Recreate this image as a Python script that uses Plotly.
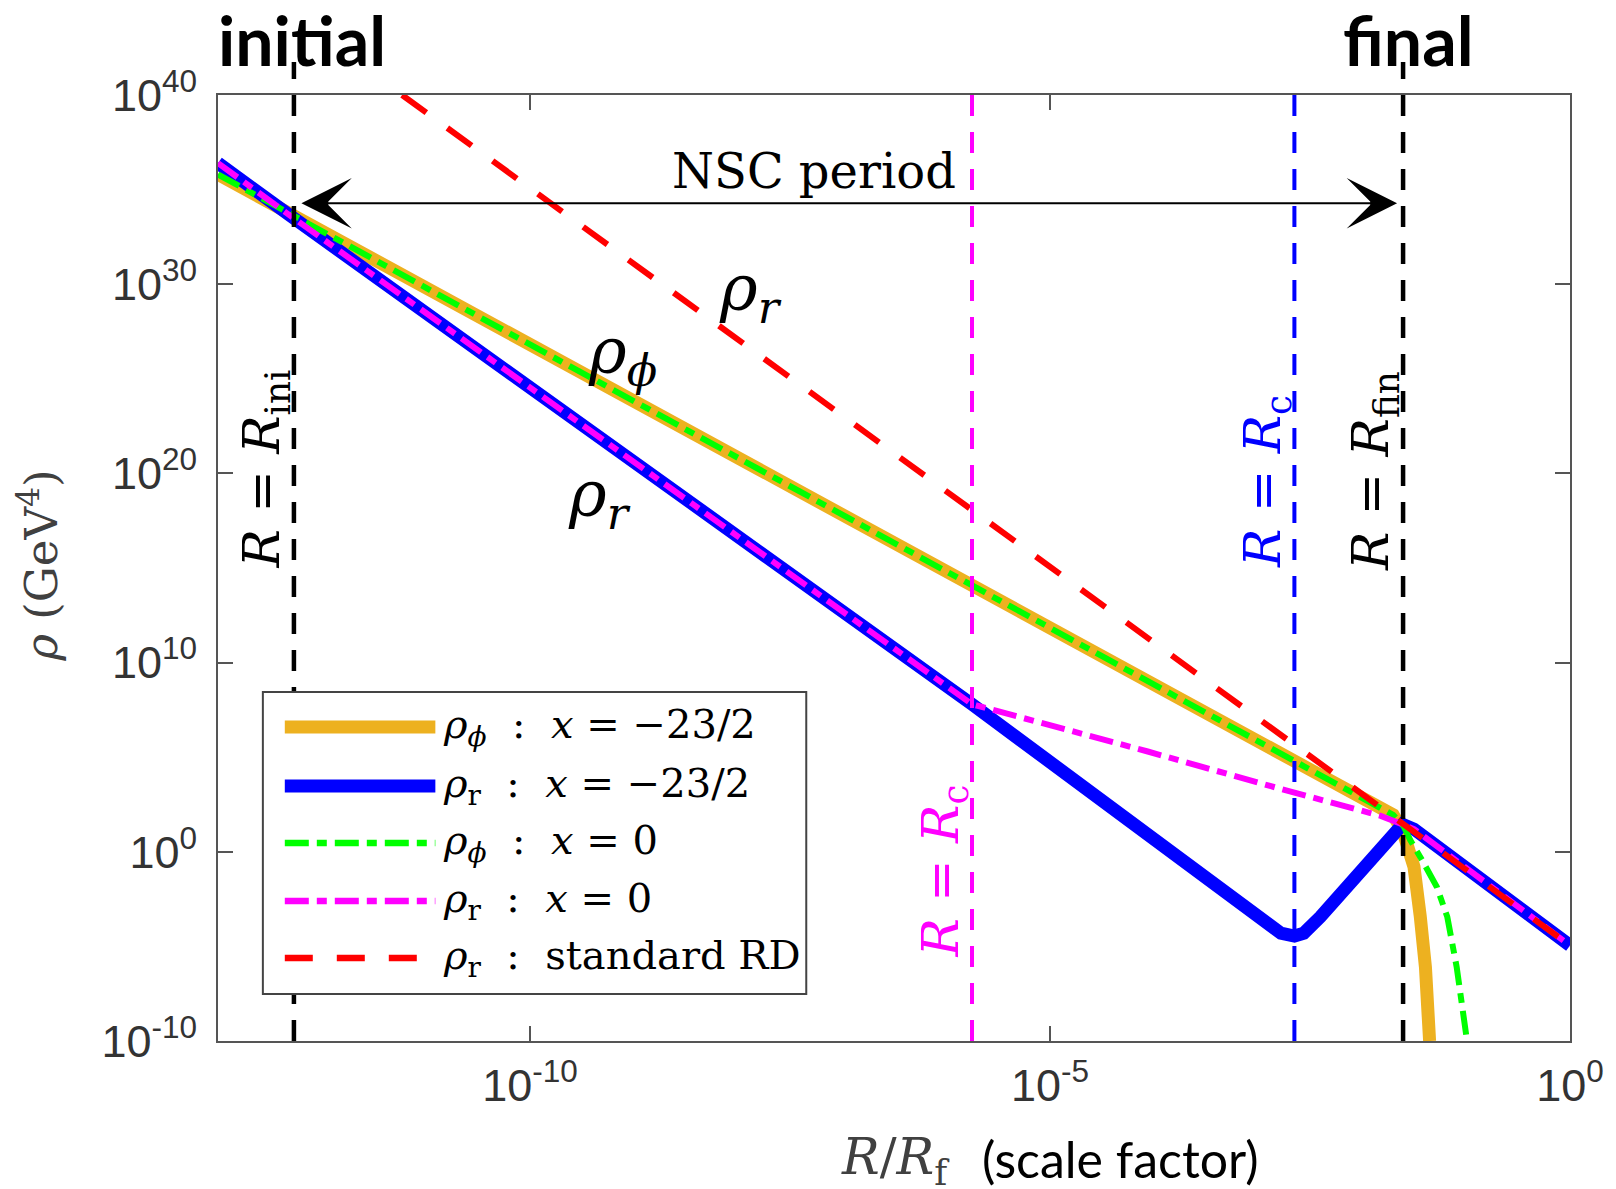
import numpy as np
import plotly.graph_objects as go

# ---------------- data (log10 values) ----------------
# rho_phi : x = -23/2   (orange)
phi_a_logR   = [-13.0, -1.70, -1.60, -1.535, -1.50, -1.44, -1.39, -1.35]
phi_a_logrho = [35.8, 1.95, 0.97, 0.08, -0.8, -3.4, -6.1, -10.0]

# rho_r : x = -23/2   (blue)
r_a_logR   = [-13.0, -12.3, -5.75, -2.90, -2.78, -2.65, -2.56, -2.40, -2.14, -1.89, -1.69, -1.61, -1.50, 0.0]
r_a_logrho = [36.4, 33.6, 7.8, -3.9, -4.3, -4.45, -4.3, -3.44, -1.86, -0.27, 0.97, 1.45, 1.2, -4.95]

# rho_phi : x = 0   (green)
phi_b_logR   = [-13.0, -1.70, -1.60, -1.535, -1.44, -1.28, -1.18, -1.09, -0.99]
phi_b_logrho = [35.8, 1.95, 1.35, 0.61, -0.27, -1.86, -3.44, -6.08, -10.0]

# rho_r : x = 0   (magenta)
r_b_logR   = [-13.0, -12.3, -5.75, -4.06, -2.78, -1.82, -1.61, -1.50, 0.0]
r_b_logrho = [36.4, 33.6, 7.8, 5.3, 3.32, 1.9, 1.45, 1.2, -4.95]

# rho_r : standard RD   (red)
rd_logR   = [-11.23, -1.61, 0.0]
rd_logrho = [40.0, 1.5, -4.95]

# characteristic scale factors (log10)
logR_ini = -12.27
logR_c_x0 = -5.75
logR_c = -2.65
logR_fin = -1.605
nsc_arrow_logrho = 34.28

x_tickvals = [1e-10, 1e-5, 1.0]
x_ticktext = ["10<sup>-10</sup>", "10<sup>-5</sup>", "10<sup>0</sup>"]
y_tickvals = [1e-10, 1e0, 1e10, 1e20, 1e30, 1e40]
y_ticktext = ["10<sup>-10</sup>", "10<sup>0</sup>", "10<sup>10</sup>",
              "10<sup>20</sup>", "10<sup>30</sup>", "10<sup>40</sup>"]

legend_labels = [
    "<i>ρ</i><sub><i>ϕ</i></sub>  :  <i>x</i> = −23/2",
    "<i>ρ</i><sub>r</sub>  :  <i>x</i> = −23/2",
    "<i>ρ</i><sub><i>ϕ</i></sub>  :  <i>x</i> = 0",
    "<i>ρ</i><sub>r</sub>  :  <i>x</i> = 0",
    "<i>ρ</i><sub>r</sub>  :  standard RD",
]

# ---------------- styling ----------------
ORANGE = "#EDB120"
BLUE = "#0000FF"
GREEN = "#00FF00"
MAGENTA = "#FF00FF"
RED = "#FF0000"
AX = "#555555"
TXT = "#333333"
SERIF = "DejaVu Serif"
DASHDOT = "24px,8px,10px,8px"
DASH = "30px,26px"
VDASH = "21px,16px"

# page is offset by the 8px body margin of the html page
OFF = 8
W, H = 1616 - OFF, 1189 - OFF
# plot area in page pixels
L, R, T, B = 218, 1574, 95, 1041


def px_x(px):
    return (px - L) / (R - L)


def px_y(py):
    return (B - py) / (B - T)


def pw(v):
    return list(10 ** np.asarray(v, dtype=float))


fig = go.Figure()
series = [
    (phi_a_logR, phi_a_logrho, ORANGE, 13, "solid"),
    (r_a_logR, r_a_logrho, BLUE, 13, "solid"),
    (phi_b_logR, phi_b_logrho, GREEN, 6, DASHDOT),
    (r_b_logR, r_b_logrho, MAGENTA, 6, DASHDOT),
    (rd_logR, rd_logrho, RED, 6, DASH),
]
for (lx, ly, col, wd, ds), name in zip(series, legend_labels):
    fig.add_trace(go.Scatter(x=pw(lx), y=pw(ly), mode="lines", name=name,
                             line=dict(color=col, width=wd, dash=ds),
                             showlegend=False, hoverinfo="skip"))

shapes = []
# vertical reference lines
for lx, col, top, wd in [(logR_ini, "black", px_y(62), 4.5),
                         (logR_c_x0, MAGENTA, 1.0, 4),
                         (logR_c, BLUE, 1.0, 4),
                         (logR_fin, "black", px_y(62), 4.5)]:
    shapes.append(dict(type="line", xref="x", yref="paper",
                       x0=10 ** lx, x1=10 ** lx, y0=0, y1=top, layer="above",
                       line=dict(color=col, width=wd, dash=VDASH)))

# custom legend box
shapes.append(dict(type="rect", xref="paper", yref="paper",
                   x0=px_x(263), x1=px_x(808), y0=px_y(994), y1=px_y(692),
                   fillcolor="white", layer="above",
                   line=dict(color="#444444", width=2)))
leg_y = [727, 786, 843, 901, 958]
leg_style = [(ORANGE, 13, "solid"), (BLUE, 13, "solid"), (GREEN, 6.5, DASHDOT),
             (MAGENTA, 6.5, DASHDOT), (RED, 6.5, "28px,24px")]
for yy, (col, wd, ds) in zip(leg_y, leg_style):
    shapes.append(dict(type="line", xref="paper", yref="paper",
                       x0=px_x(285), x1=px_x(436), y0=px_y(yy), y1=px_y(yy),
                       layer="above", line=dict(color=col, width=wd, dash=ds)))

ann = []
for yy, lab in zip(leg_y, legend_labels):
    ann.append(dict(xref="paper", yref="paper", x=px_x(442), y=px_y(yy),
                    xanchor="left", yanchor="middle", text=lab, showarrow=False,
                    font=dict(family=SERIF, size=40, color="black")))

# top labels
ann.append(dict(xref="paper", yref="paper", x=px_x(302), y=px_y(40),
                xanchor="center", yanchor="middle", text="<b>initial</b>",
                showarrow=False, font=dict(family="Lato", size=68, color="black")))
ann.append(dict(xref="paper", yref="paper", x=px_x(1412), y=px_y(40),
                xanchor="center", yanchor="middle", text="<b>final</b>",
                showarrow=False, font=dict(family="Lato", size=68, color="black")))

# NSC period arrow and text
ann.append(dict(xref="x", yref="y", axref="x", ayref="y",
                x=logR_fin, y=nsc_arrow_logrho, ax=logR_ini, ay=nsc_arrow_logrho,
                text="", showarrow=True, arrowside="end+start",
                arrowhead=3, startarrowhead=3, arrowsize=4.2, startarrowsize=4.2,
                arrowwidth=2, arrowcolor="black", standoff=6, startstandoff=6))
ann.append(dict(xref="paper", yref="paper", x=px_x(816), y=px_y(171),
                xanchor="center", yanchor="middle", text="NSC period",
                showarrow=False, font=dict(family=SERIF, size=48, color="black")))

# rho labels in the plot
for cx, cy, t in [(752, 292, "<i>ρ</i><sub><i>r</i></sub>"),
                  (624, 355, "<i>ρ</i><sub><i>ϕ</i></sub>"),
                  (601, 499, "<i>ρ</i><sub><i>r</i></sub>")]:
    ann.append(dict(xref="paper", yref="paper", x=px_x(cx), y=px_y(cy),
                    xanchor="center", yanchor="middle", text=t, showarrow=False,
                    font=dict(family=SERIF, size=64, color="black")))

# rotated line labels
for lx, col, bottom, sub in [(logR_ini, "black", 570, "ini"),
                             (logR_c, BLUE, 570, "c"),
                             (logR_fin, "black", 573, "fin"),
                             (logR_c_x0, MAGENTA, 960, "c")]:
    ann.append(dict(xref="x", yref="paper", x=lx, y=px_y(bottom),
                    xanchor="right", yanchor="bottom", xshift=6,
                    textangle=-90, showarrow=False,
                    text="<i>R</i> = <i>R</i><sub>%s</sub>" % sub,
                    font=dict(family=SERIF, size=51, color=col)))

# axis titles
ann.append(dict(xref="paper", yref="paper", x=px_x(38), y=px_y(566),
                xanchor="center", yanchor="middle", textangle=-90,
                text="<i>ρ</i> (GeV<sup>4</sup>)", showarrow=False,
                font=dict(family=SERIF, size=45, color="#404040")))
ann.append(dict(xref="paper", yref="paper", x=px_x(954), y=px_y(1160),
                xanchor="right", yanchor="middle",
                text="<i>R</i>/<i>R</i><sub>f</sub>", showarrow=False,
                font=dict(family=SERIF, size=50, color="#404040")))
ann.append(dict(xref="paper", yref="paper", x=px_x(982), y=px_y(1159),
                xanchor="left", yanchor="middle",
                text="(scale factor)", showarrow=False,
                font=dict(family="Lato", size=50, color="black")))

axis_common = dict(showline=True, linecolor=AX, linewidth=2, mirror="ticks",
                   ticks="inside", ticklen=15, tickwidth=2, tickcolor=AX,
                   showgrid=False, zeroline=False, tickmode="array",
                   tickfont=dict(family="Liberation Sans", size=45, color=TXT))

fig.update_xaxes(type="log", range=[-13, 0], tickvals=x_tickvals,
                 ticktext=x_ticktext, ticklabelstandoff=4, **axis_common)
fig.update_yaxes(type="log", range=[-10, 40], tickvals=y_tickvals,
                 ticktext=y_ticktext, ticklabelstandoff=10, **axis_common)

fig.update_layout(width=W, height=H, autosize=False,
                  margin=dict(l=L - OFF, r=OFF + W - R, t=T - OFF, b=OFF + H - B, pad=0),
                  plot_bgcolor="white", paper_bgcolor="white",
                  shapes=shapes, annotations=ann, showlegend=False)

fig.write_html("out.html")
